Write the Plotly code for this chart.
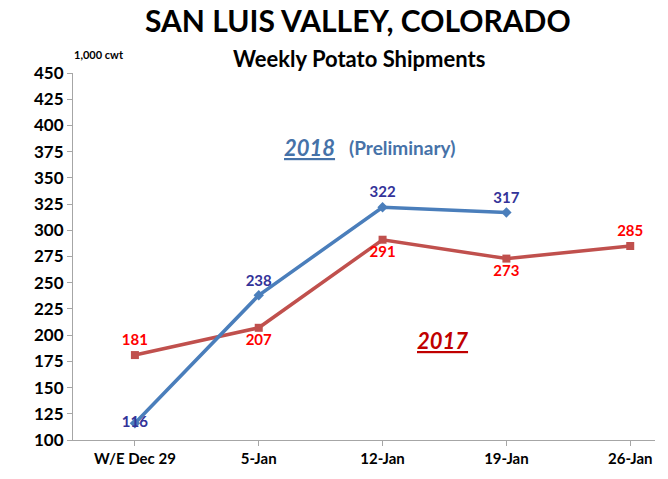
import plotly.graph_objects as go

categories = ["W/E Dec 29", "5-Jan", "12-Jan", "19-Jan", "26-Jan"]
y2018 = [116, 238, 322, 317, None]
y2017 = [181, 207, 291, 273, 285]
pos2018 = ["middle center", "top center", "top center", "top center", "top center"]
pos2017 = ["top center", "bottom center", "bottom center", "bottom center", "top center"]
yticks = list(range(100, 451, 25))

FONT = "Lato"
x_idx = list(range(len(categories)))

fig = go.Figure()
fig.add_trace(go.Scatter(
    x=x_idx, y=y2017, mode="lines+markers+text",
    line=dict(color="#C0504D", width=3.5),
    marker=dict(symbol="square", size=8, color="#C0504D"),
    text=[str(v) for v in y2017], textposition=pos2017,
    textfont=dict(family=FONT, size=15, color="#FF0000", weight="bold"),
    cliponaxis=False, showlegend=False))
fig.add_trace(go.Scatter(
    x=x_idx, y=y2018, mode="lines+markers+text",
    line=dict(color="#4A7EBB", width=3.5),
    marker=dict(symbol="diamond", size=8, color="#4A7EBB"),
    text=[str(v) if v is not None else "" for v in y2018], textposition=pos2018,
    textfont=dict(family=FONT, size=15, color="#333399", weight="bold"),
    cliponaxis=False, showlegend=False))

fig.update_layout(
    width=668, height=479,
    margin=dict(l=73, r=13, t=73, b=33),
    paper_bgcolor="white", plot_bgcolor="white",
    font=dict(family=FONT, color="black"),
    xaxis=dict(
        range=[-0.5, 4.2], tickmode="array", tickvals=x_idx, ticktext=categories,
        showgrid=False, zeroline=False, showline=True, linecolor="#A6A6A6", linewidth=1,
        ticks="outside", tickson="boundaries", ticklen=5, tickcolor="#A6A6A6",
        tickfont=dict(family=FONT, size=15, color="black", weight="bold"),
        fixedrange=True),
    yaxis=dict(
        range=[100, 450], tickmode="array", tickvals=yticks,
        showgrid=False, zeroline=False, showline=True, linecolor="#A6A6A6", linewidth=1,
        ticks="outside", ticklen=5, tickcolor="#A6A6A6",
        tickfont=dict(family=FONT, size=17, color="black", weight="bold"),
        fixedrange=True),
)

fig.add_annotation(xref="paper", yref="paper", x=(358 - 73) / 582, y=1.0, yshift=73 - 20,
                   text="<b>SAN LUIS VALLEY, COLORADO</b>", showarrow=False,
                   font=dict(family=FONT, size=30, color="black"), xanchor="center", yanchor="middle")
fig.add_annotation(xref="paper", yref="paper", x=(359 - 73) / 582, y=1.0, yshift=73 - 58,
                   text="<b>Weekly Potato Shipments</b>", showarrow=False,
                   font=dict(family=FONT, size=22, color="black"), xanchor="center", yanchor="middle")
fig.add_annotation(xref="paper", yref="paper", x=(99 - 73) / 582, y=1.0, yshift=73 - 54,
                   text="<b>1,000 cwt</b>", showarrow=False,
                   font=dict(family=FONT, size=11, color="black"), xanchor="center", yanchor="middle")
fig.add_annotation(xref="x", yref="y", x=1.41, y=379,
                   text="<b><i><u>2018</u></i></b>", showarrow=False,
                   font=dict(family=FONT, size=22, color="#4672A8"), xanchor="center", yanchor="middle")
fig.add_annotation(xref="x", yref="y", x=2.16, y=379,
                   text="<b>(Preliminary)</b>", showarrow=False,
                   font=dict(family=FONT, size=19, color="#4672A8"), xanchor="center", yanchor="middle")
fig.add_annotation(xref="x", yref="y", x=2.48, y=195,
                   text="<b><i><u>2017</u></i></b>", showarrow=False,
                   font=dict(family=FONT, size=22, color="#C00000"), xanchor="center", yanchor="middle")

fig.write_html("out.html", config={"displayModeBar": False},
               post_script="document.body.style.margin='0';document.body.style.overflow='hidden';")
